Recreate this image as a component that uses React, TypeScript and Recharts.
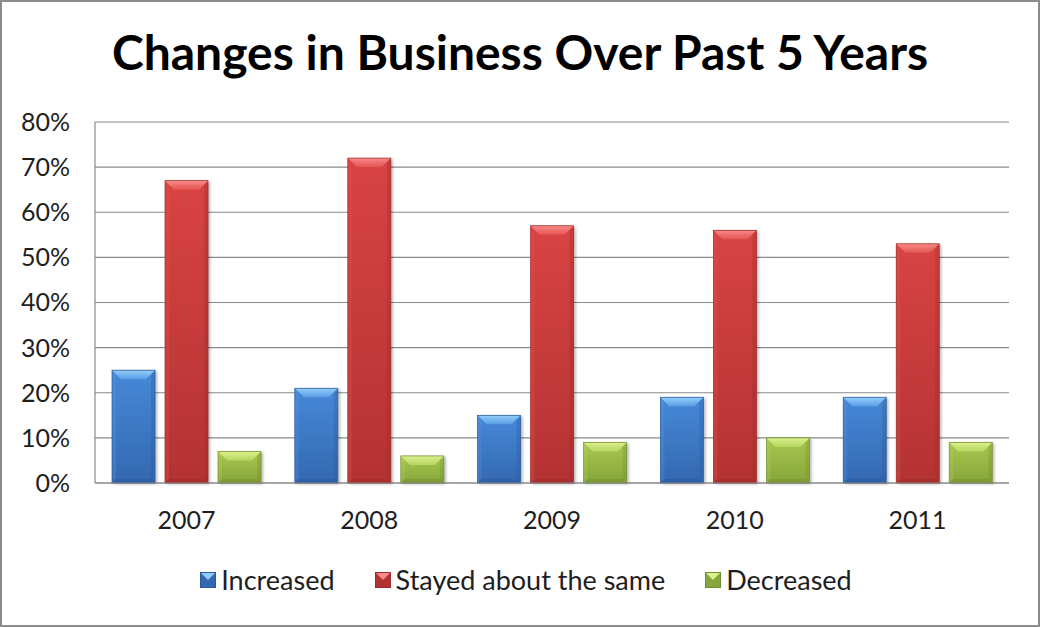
import React from "react";
import { BarChart, Bar, XAxis, YAxis, CartesianGrid, Legend } from "recharts";

const YEARS = ["2007", "2008", "2009", "2010", "2011"];
const INCREASED = [25, 21, 15, 19, 19];
const SAME = [67, 72, 57, 56, 53];
const DECREASED = [7, 6, 9, 10, 9];
const Y_TICKS = [0, 10, 20, 30, 40, 50, 60, 70, 80];

const data = YEARS.map((year, i) => ({
  year,
  increased: INCREASED[i],
  same: SAME[i],
  decreased: DECREASED[i],
}));

const FONT = "Lato, 'Noto Sans', sans-serif";
const GRID = "#8a8a8a";
const TEXT = "#1e1e1e";

interface Tone {
  key: string;
  label: string;
  faceTop: string;
  faceBottom: string;
  bevelTop: string;
  bevelBottom: string;
  left: string;
  right: string;
  bottom: string;
}

const SERIES: Tone[] = [
  {
    key: "increased", label: "Increased",
    faceTop: "#4689d8", faceBottom: "#3468b0",
    bevelTop: "#93cdf9", bevelBottom: "#5a9ee6",
    left: "#5596e0", right: "#2a5a9a", bottom: "#26528e",
  },
  {
    key: "same", label: "Stayed about the same",
    faceTop: "#d94343", faceBottom: "#b33332",
    bevelTop: "#f88a88", bevelBottom: "#e35452",
    left: "#e05250", right: "#9a2a29", bottom: "#8f2726",
  },
  {
    key: "decreased", label: "Decreased",
    faceTop: "#a8c850", faceBottom: "#86a53a",
    bevelTop: "#dcf08c", bevelBottom: "#b6d660",
    left: "#b2d05c", right: "#728e2e", bottom: "#6b862b",
  },
];

function BevelBar(props: any) {
  const { x, y, width: w, height: h, tone } = props;
  if (!h || h <= 0) return null;
  const b = Math.min(9, h / 2, w / 2);
  const s = Math.min(4, h / 2);
  return (
    <g>
      <rect x={x + 2} y={y + 1} width={w} height={h} fill="#000" opacity={0.3} filter="url(#barShadow)" />
      <rect x={x} y={y} width={w} height={h} fill={`url(#face-${tone.key})`} />
      <polygon
        points={`${x},${y} ${x + s},${y + s} ${x + s},${y + h - s} ${x},${y + h}`}
        fill={tone.left}
        opacity={0.3}
      />
      <polygon
        points={`${x + w},${y} ${x + w - s},${y + s} ${x + w - s},${y + h - s} ${x + w},${y + h}`}
        fill={tone.right}
        opacity={0.3}
      />
      <polygon
        points={`${x},${y + h} ${x + s},${y + h - s} ${x + w - s},${y + h - s} ${x + w},${y + h}`}
        fill={tone.bottom}
        opacity={0.35}
      />
      <polygon
        points={`${x},${y} ${x + w},${y} ${x + w - b},${y + b} ${x + b},${y + b}`}
        fill={`url(#top-${tone.key})`}
      />
      <rect x={x} y={y} width={w} height={h} fill="none" stroke={tone.right} strokeWidth={0.7} />
    </g>
  );
}

function LegendIcon({ tone }: { tone: Tone }) {
  return (
    <svg width={16} height={16} style={{ display: "block" }}>
      <rect x={0} y={0} width={16} height={16} fill={tone.faceBottom} />
      <polygon points="0,0 16,0 8,8" fill={tone.bevelTop} />
      <rect x={0.5} y={0.5} width={15} height={15} fill="none" stroke={tone.right} />
    </svg>
  );
}

function renderLegend() {
  return (
    <div style={{ display: "flex", justifyContent: "center", alignItems: "center", gap: 40, paddingLeft: 12 }}>
      {SERIES.map((s) => (
        <div key={s.key} style={{ display: "flex", alignItems: "center", gap: 5 }}>
          <LegendIcon tone={s} />
          <span style={{ fontFamily: FONT, fontSize: 27, color: TEXT, lineHeight: "30px" }}>{s.label}</span>
        </div>
      ))}
    </div>
  );
}

export default function App() {
  return (
    <div style={{ position: "relative", width: 1040, height: 627, background: "#fff" }}>
      <style>{`body{margin:0}`}</style>
      <div
        style={{
          position: "absolute",
          top: 22,
          left: 0,
          width: 1040,
          textAlign: "center",
          fontFamily: FONT,
          fontWeight: 700,
          fontSize: 48,
          lineHeight: "60px",
          color: "#000",
        }}
      >
        Changes in Business Over Past 5 Years
      </div>
      <div style={{ position: "absolute", top: 0, left: 0 }}>
        <BarChart
          width={1040}
          height={627}
          data={data}
          margin={{ top: 122, right: 31, left: 0, bottom: 84 }}
          barCategoryGap={17}
          barGap={10}
        >
          <defs>
            <filter id="barShadow" x="-20%" y="-20%" width="140%" height="140%">
              <feGaussianBlur stdDeviation="1.5" />
            </filter>
            {SERIES.map((s) => (
              <linearGradient key={`face-${s.key}`} id={`face-${s.key}`} x1="0" y1="0" x2="0" y2="1">
                <stop offset="0%" stopColor={s.faceTop} />
                <stop offset="100%" stopColor={s.faceBottom} />
              </linearGradient>
            ))}
            {SERIES.map((s) => (
              <linearGradient key={`top-${s.key}`} id={`top-${s.key}`} x1="0" y1="0" x2="0" y2="1">
                <stop offset="0%" stopColor={s.bevelTop} />
                <stop offset="100%" stopColor={s.bevelBottom} />
              </linearGradient>
            ))}
          </defs>
          <CartesianGrid vertical={false} stroke={GRID} strokeWidth={1.2} />
          <XAxis
            dataKey="year"
            axisLine={{ stroke: GRID, strokeWidth: 1.2 }}
            tickLine={false}
            tickSize={0}
            tickMargin={28}
            height={60}
            tick={{ fontFamily: FONT, fontSize: 25, fill: TEXT }}
          />
          <YAxis
            domain={[0, 80]}
            ticks={Y_TICKS}
            interval={0}
            tickFormatter={(v: number) => `${v}%`}
            axisLine={{ stroke: GRID, strokeWidth: 1.2 }}
            tickLine={false}
            tickSize={0}
            tickMargin={25}
            width={95}
            tick={{ fontFamily: FONT, fontSize: 25, fill: TEXT }}
          />
          <Legend
            layout="horizontal"
            verticalAlign="middle"
            align="center"
            wrapperStyle={{ top: 565, left: 0, width: 1040 }}
            content={renderLegend}
          />
          {SERIES.map((s) => (
            <Bar
              key={s.key}
              dataKey={s.key}
              name={s.label}
              fill={s.faceTop}
              isAnimationActive={false}
              shape={(p: any) => <BevelBar {...p} tone={s} />}
            />
          ))}
        </BarChart>
      </div>
      <div
        style={{
          position: "absolute",
          inset: 0,
          border: "2px solid #8c8c8c",
          pointerEvents: "none",
        }}
      />
    </div>
  );
}
